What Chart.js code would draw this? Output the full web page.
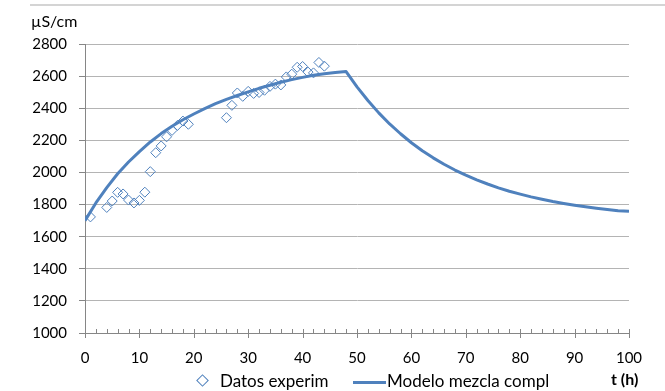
<!DOCTYPE html>
<html>
<head>
<meta charset="utf-8">
<script src="https://cdn.jsdelivr.net/npm/chart.js@4/dist/chart.umd.min.js"></script>
<style>
    body { margin: 0; background: #fff; }
    #caja { position: relative; width: 665px; height: 391px; font-family: Lato, "Open Sans", sans-serif; }
    #borde-sup { position: absolute; left: 30px; right: 0; top: 4px; height: 2px; background: #d4d4d4; }
    .txt { position: absolute; color: #000; white-space: nowrap; line-height: 20px; }
    #unidad { left: 31px; top: 11px; font-size: 16px; }
    #eje-t { left: 611px; top: 369px; font-size: 16px; font-weight: bold; }
    #ley-datos { left: 196px; top: 371px; font-size: 17px; }
    #ley-modelo { left: 353px; top: 371px; font-size: 17px; }
    .rombo { display: inline-block; width: 7px; height: 7px; border: 1px solid #4f81bd; transform: rotate(45deg); margin: 0 13px 2px 2px; }
    .linea { display: inline-block; width: 33px; height: 3px; background: #4f81bd; vertical-align: middle; margin-right: 1px; }
</style>
</head>
<body>
<div id="caja">
    <div id="borde-sup"></div>
    <canvas id="grafica-conductividad" width="665" height="391"></canvas>
    <div class="txt" id="unidad">µS/cm</div>
    <div class="txt" id="eje-t">t (h)</div>
    <div class="txt" id="ley-datos"><span class="rombo"></span>Datos experim</div>
    <div class="txt" id="ley-modelo"><span class="linea"></span>Modelo mezcla compl</div>
</div>
<script>
// datos experimentales (horas, µS/cm)
const tiemposExp = [1, 4, 5, 6, 7, 8, 9, 10, 11, 12, 13, 14, 15, 16, 17, 18, 19,
    26, 27, 28, 29, 30, 31, 32, 33, 34, 35, 36, 37, 38, 39, 40, 41, 42, 43, 44];
const conductExp = [1723, 1782, 1822, 1876, 1866, 1828, 1810, 1826, 1877, 2005, 2123, 2165, 2222, 2262, 2293, 2320, 2300,
    2341, 2418, 2495, 2474, 2505, 2492, 2498, 2512, 2536, 2550, 2545, 2595, 2612, 2655, 2660, 2625, 2620, 2685, 2662];

// modelo de mezcla completa
const tiemposModelo = [0, 2, 4, 6, 8, 10, 12, 14, 16, 18, 20, 22, 24, 26, 28, 30, 32, 34, 36, 38, 40, 42, 44, 46, 48,
    50, 52, 54, 56, 58, 60, 62, 64, 66, 68, 70, 72, 74, 76, 78, 80, 82, 84, 86, 88, 90, 92, 94, 96, 98, 100];
const conductModelo = [1700, 1810, 1905, 1992, 2065, 2130, 2190, 2242, 2288, 2328, 2364, 2397, 2428, 2455, 2479, 2502, 2524, 2543, 2562, 2578, 2592, 2605, 2615, 2622, 2628,
    2533, 2448, 2371, 2302, 2241, 2185, 2135, 2091, 2051, 2015, 1983, 1954, 1928, 1904, 1883, 1865, 1848, 1833, 1819, 1807, 1796, 1786, 1777, 1769, 1762, 1758];

const marcasY = [1000, 1200, 1400, 1600, 1800, 2000, 2200, 2400, 2600, 2800];

const azul = "#4f81bd";
const grisEje = "#868686";
const grisRejilla = "#b4b4b4";

// marcas menores del eje x (hacia arriba) y mayores (cruzando)
const marcasEjeX = {
    id: "marcasEjeX",
    afterDraw(chart) {
        const ctx = chart.ctx;
        const escala = chart.scales.x;
        const yEje = chart.chartArea.bottom;
        ctx.save();
        ctx.strokeStyle = grisEje;
        ctx.lineWidth = 1;
        escala.ticks.forEach((t) => {
            const px = Math.round(escala.getPixelForValue(t.value)) + 0.5;
            const mayor = t.value % 10 === 0;
            ctx.beginPath();
            ctx.moveTo(px, yEje - 4);
            ctx.lineTo(px, mayor ? yEje + 5 : yEje);
            ctx.stroke();
        });
        ctx.restore();
    },
};

const contexto = document.getElementById("grafica-conductividad").getContext("2d");
const grafico = new Chart(contexto, {
    data: {
        datasets: [{
            type: "line",
            label: "Modelo mezcla compl",
            data: tiemposModelo.map((t, i) => ({ x: t, y: conductModelo[i] })),
            borderColor: azul,
            borderWidth: 3,
            borderJoinStyle: "round",
            pointRadius: 0,
            tension: 0,
            order: 0,
        }, {
            type: "scatter",
            label: "Datos experim",
            data: tiemposExp.map((t, i) => ({ x: t, y: conductExp[i] })),
            pointStyle: "rectRot",
            pointRadius: 5,
            borderColor: azul,
            borderWidth: 1,
            backgroundColor: "rgba(255,255,255,0)",
            order: 1,
        }],
    },
    options: {
        responsive: false,
        animation: false,
        layout: { padding: { left: 0, right: 36, top: 44, bottom: 24 } },
        plugins: { legend: { display: false }, tooltip: { enabled: false } },
        scales: {
            x: {
                type: "linear",
                min: 0,
                max: 100,
                afterFit: (escala) => { escala.height = 34; },
                grid: { drawOnChartArea: false, drawTicks: false },
                border: { color: grisEje },
                ticks: {
                    stepSize: 2,
                    autoSkip: false,
                    maxRotation: 0,
                    padding: 16,
                    color: "#000",
                    font: { family: "Lato", size: 15 },
                    callback: (v) => (v % 10 === 0 ? v : ""),
                },
            },
            y: {
                min: 1000,
                max: 2800,
                afterFit: (escala) => { escala.width = 85; },
                afterBuildTicks: (escala) => { escala.ticks = marcasY.map((v) => ({ value: v })); },
                grid: { color: grisRejilla, tickColor: grisEje, tickLength: 6 },
                border: { color: grisEje },
                ticks: {
                    padding: 12,
                    color: "#000",
                    font: { family: "Lato", size: 15 },
                    callback: (v) => String(v),
                },
            },
        },
    },
    plugins: [marcasEjeX],
});
</script>
</body>
</html>
